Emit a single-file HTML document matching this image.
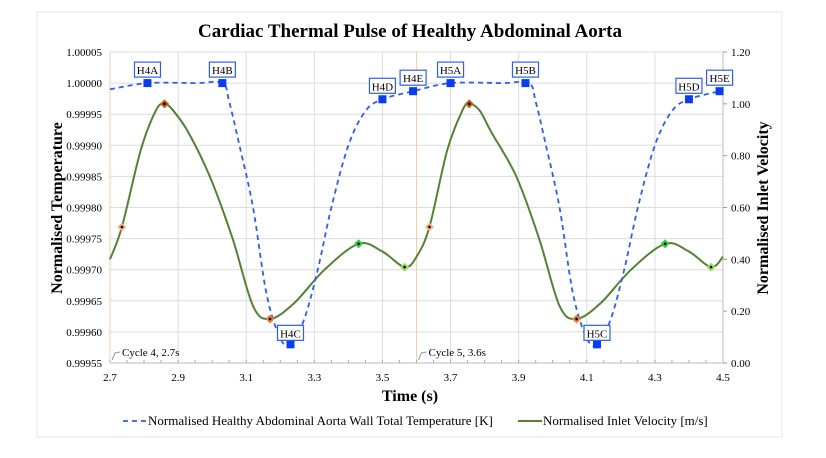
<!DOCTYPE html>
<html><head><meta charset="utf-8"><style>
body{margin:0;background:#fff;}
svg text{font-family:"Liberation Serif",serif;}
</style></head><body>
<svg id="chart" width="826" height="453" viewBox="0 0 826 453" xmlns="http://www.w3.org/2000/svg">
<rect x="37" y="12" width="745" height="425" fill="#fff" stroke="#e4e4e4"/>
<text x="410" y="37" text-anchor="middle" font-size="19" font-weight="bold">Cardiac Thermal Pulse of Healthy Abdominal Aorta</text>
<g id="grid"></g><g id="axes"></g><g id="series"></g><g id="labels"></g>
<text x="410" y="401" text-anchor="middle" font-size="16" font-weight="bold">Time (s)</text>
<text transform="translate(62,208) rotate(-90)" text-anchor="middle" font-size="16" font-weight="bold">Normalised Temperature</text>
<text transform="translate(768,208) rotate(-90)" text-anchor="middle" font-size="16" font-weight="bold">Normalised Inlet Velocity</text>
<g>
<g><line x1="123" y1="421" x2="147" y2="421" stroke="#2f5cf5" stroke-width="1.8" stroke-dasharray="5,4"/><text x="148" y="425" font-size="13">Normalised Healthy Abdominal Aorta Wall Total Temperature [K]</text></g>
<g><line x1="518" y1="421" x2="542" y2="421" stroke="#548235" stroke-width="2"/><text x="543" y="425" font-size="13">Normalised Inlet Velocity [m/s]</text></g>
</g>
</svg>
<script>
const xTicks=[2.7,2.9,3.1,3.3,3.5,3.7,3.9,4.1,4.3,4.5];
const yLeftTicks=["0.99955","0.99960","0.99965","0.99970","0.99975","0.99980","0.99985","0.99990","0.99995","1.00000","1.00005"];
const yRightTicks=["0.00","0.20","0.40","0.60","0.80","1.00","1.20"];
const tempT=[2.70,2.81,2.95,3.03,3.05,3.08,3.12,3.16,3.20,3.23,3.27,3.31,3.35,3.40,3.45,3.50,3.59,3.70,3.85,3.93,3.95,3.98,4.02,4.06,4.10,4.13,4.17,4.21,4.25,4.30,4.35,4.40,4.49];
const tempV=[0.99999,1.00000,1.00000,1.00000,0.99997,0.99990,0.99980,0.99966,0.99959,0.99958,0.99962,0.99970,0.99980,0.99990,0.999955,0.999974,0.999987,1.00000,1.00000,1.00000,0.99997,0.99990,0.99980,0.99966,0.99959,0.99958,0.99962,0.99970,0.99980,0.99990,0.999955,0.999974,0.999987];
const markT=[2.81,3.03,3.23,3.50,3.59,3.70,3.92,4.13,4.40,4.49];
const markV=[1.00000,1.00000,0.99958,0.999974,0.999987,1.00000,1.00000,0.99958,0.999974,0.999987];
const markL=["H4A","H4B","H4C","H4D","H4E","H5A","H5B","H5C","H5D","H5E"];
const velT=[2.70,2.735,2.79,2.835,2.86,2.885,2.93,2.993,3.06,3.12,3.17,3.24,3.33,3.43,3.50,3.565,3.60,3.638,3.69,3.735,3.755,3.785,3.82,3.893,3.96,4.02,4.07,4.14,4.23,4.33,4.40,4.465,4.50];
const velV=[0.40,0.525,0.82,0.975,1.00,0.975,0.89,0.72,0.48,0.22,0.17,0.23,0.36,0.46,0.43,0.37,0.41,0.525,0.82,0.975,1.00,0.975,0.89,0.72,0.48,0.22,0.17,0.23,0.36,0.46,0.43,0.37,0.41];
const velMarkT=[2.735,2.86,3.17,3.43,3.565,3.638,3.755,4.07,4.33,4.465];
const velMarkV=[0.525,1.00,0.17,0.46,0.37,0.525,1.00,0.17,0.46,0.37];
const velMarkC=["#f4b183","#c55a11","#ed7d31","#33cc33","#99dd66","#f4b183","#c55a11","#ed7d31","#33cc33","#99dd66"];
const cycleT=[2.7,3.6];
const cycleL=["Cycle 4, 2.7s","Cycle 5, 3.6s"];

const X0=110,X1=723,YT=52,YB=363;
const xs=t=>X0+(t-2.7)/1.8*(X1-X0);
const yl=v=>YB-(v-0.99955)/0.0005*(YB-YT);
const yr=v=>YB-v/1.2*(YB-YT);
const NS="http://www.w3.org/2000/svg";
function mk(tag,attrs,parent,txt){const e=document.createElementNS(NS,tag);for(const k in attrs)e.setAttribute(k,attrs[k]);if(txt!==undefined)e.textContent=txt;parent.appendChild(e);return e;}
const grid=document.getElementById('grid'),axes=document.getElementById('axes'),ser=document.getElementById('series'),lab=document.getElementById('labels');
yLeftTicks.forEach((s,i)=>{const y=yl(parseFloat(s));
 const g=mk('line',{x1:X0,x2:X1,y1:y,y2:y,stroke:'#dcdcdc','stroke-width':1},grid);
 
 const t=mk('text',{x:102,y:y+4,'text-anchor':'end','font-size':11},axes,s);
 });
yRightTicks.forEach(s=>{const y=yr(parseFloat(s));
 mk('line',{x1:X1,x2:X1+4,y1:y,y2:y,stroke:'#999'},axes);
 const t=mk('text',{x:731,y:y+4,'font-size':11},axes,s);
 });
xTicks.forEach(v=>{const x=xs(v);
 const g=mk('line',{x1:x,x2:x,y1:YT,y2:YB,stroke:'#dcdcdc'},grid);
 
 const t=mk('text',{x:x,y:381,'text-anchor':'middle','font-size':11},axes,v.toFixed(1));
 });
for(let v=2.7;v<=4.5001;v+=0.05){const x=xs(v);mk('line',{x1:x,x2:x,y1:YB,y2:YB-3,stroke:'#aaa'},axes);}
mk('line',{x1:X0,x2:X1,y1:YB,y2:YB,stroke:'#bbb'},axes);
mk('line',{x1:X1,x2:X1,y1:YT,y2:YB,stroke:'#bbb'},axes);
cycleT.forEach((c,i)=>{const x=xs(c);
 const l=mk('line',{x1:x,x2:x,y1:YT,y2:YB,stroke:'#f8cbad','stroke-width':1},grid);
 
 mk('path',{d:`M${x+2} ${YB-3} L${x+5} ${YB-10} L${x+10} ${YB-11}`,fill:'none',stroke:'#999'},lab);
 const t=mk('text',{x:x+12,y:YB-7,'font-size':11},lab,cycleL[i]);
 });
function spline(pts){let d=`M${pts[0][0]} ${pts[0][1]}`;
 for(let i=0;i<pts.length-1;i++){const p0=pts[i-1]||pts[i],p1=pts[i],p2=pts[i+1],p3=pts[i+2]||p2;
  const c1=[p1[0]+(p2[0]-p0[0])/6,p1[1]+(p2[1]-p0[1])/6],c2=[p2[0]-(p3[0]-p1[0])/6,p2[1]-(p3[1]-p1[1])/6];
  d+=` C${c1[0]} ${c1[1]} ${c2[0]} ${c2[1]} ${p2[0]} ${p2[1]}`;}return d;}
const vp=mk('path',{d:spline(velT.map((t,i)=>[xs(t),yr(velV[i])])),fill:'none',stroke:'#548235','stroke-width':2},ser);

const tp=mk('path',{d:spline(tempT.map((t,i)=>[xs(t),yl(tempV[i])])),fill:'none',stroke:'#2f5cf5','stroke-width':1.8,'stroke-dasharray':'5,4'},ser);

velMarkT.forEach((t,i)=>{const x=xs(t),y=yr(velMarkV[i]);
 const m=mk('path',{d:`M${x} ${y-4.5} L${x+4.5} ${y} L${x} ${y+4.5} L${x-4.5} ${y}Z`,fill:velMarkC[i]},ser);
 
 mk('circle',{cx:x,cy:y,r:1.3,fill:'#000'},ser);});
markT.forEach((t,i)=>{const x=xs(t),y=yl(markV[i]);
 const m=mk('rect',{x:x-4,y:y-4,width:8,height:8,fill:'#0a3cf0'},ser);
 
 const low=markV[i]<0.9997;const ly=low?y-11:y-13;
 const b=mk('rect',{x:x-13,y:ly-8,width:26,height:15,fill:'#fff',stroke:'#2f5cf5','stroke-width':1.2},lab);
 
 const tx=mk('text',{x:x,y:ly+4,'text-anchor':'middle','font-size':11},lab,markL[i]);
 });
</script>
</body></html>
